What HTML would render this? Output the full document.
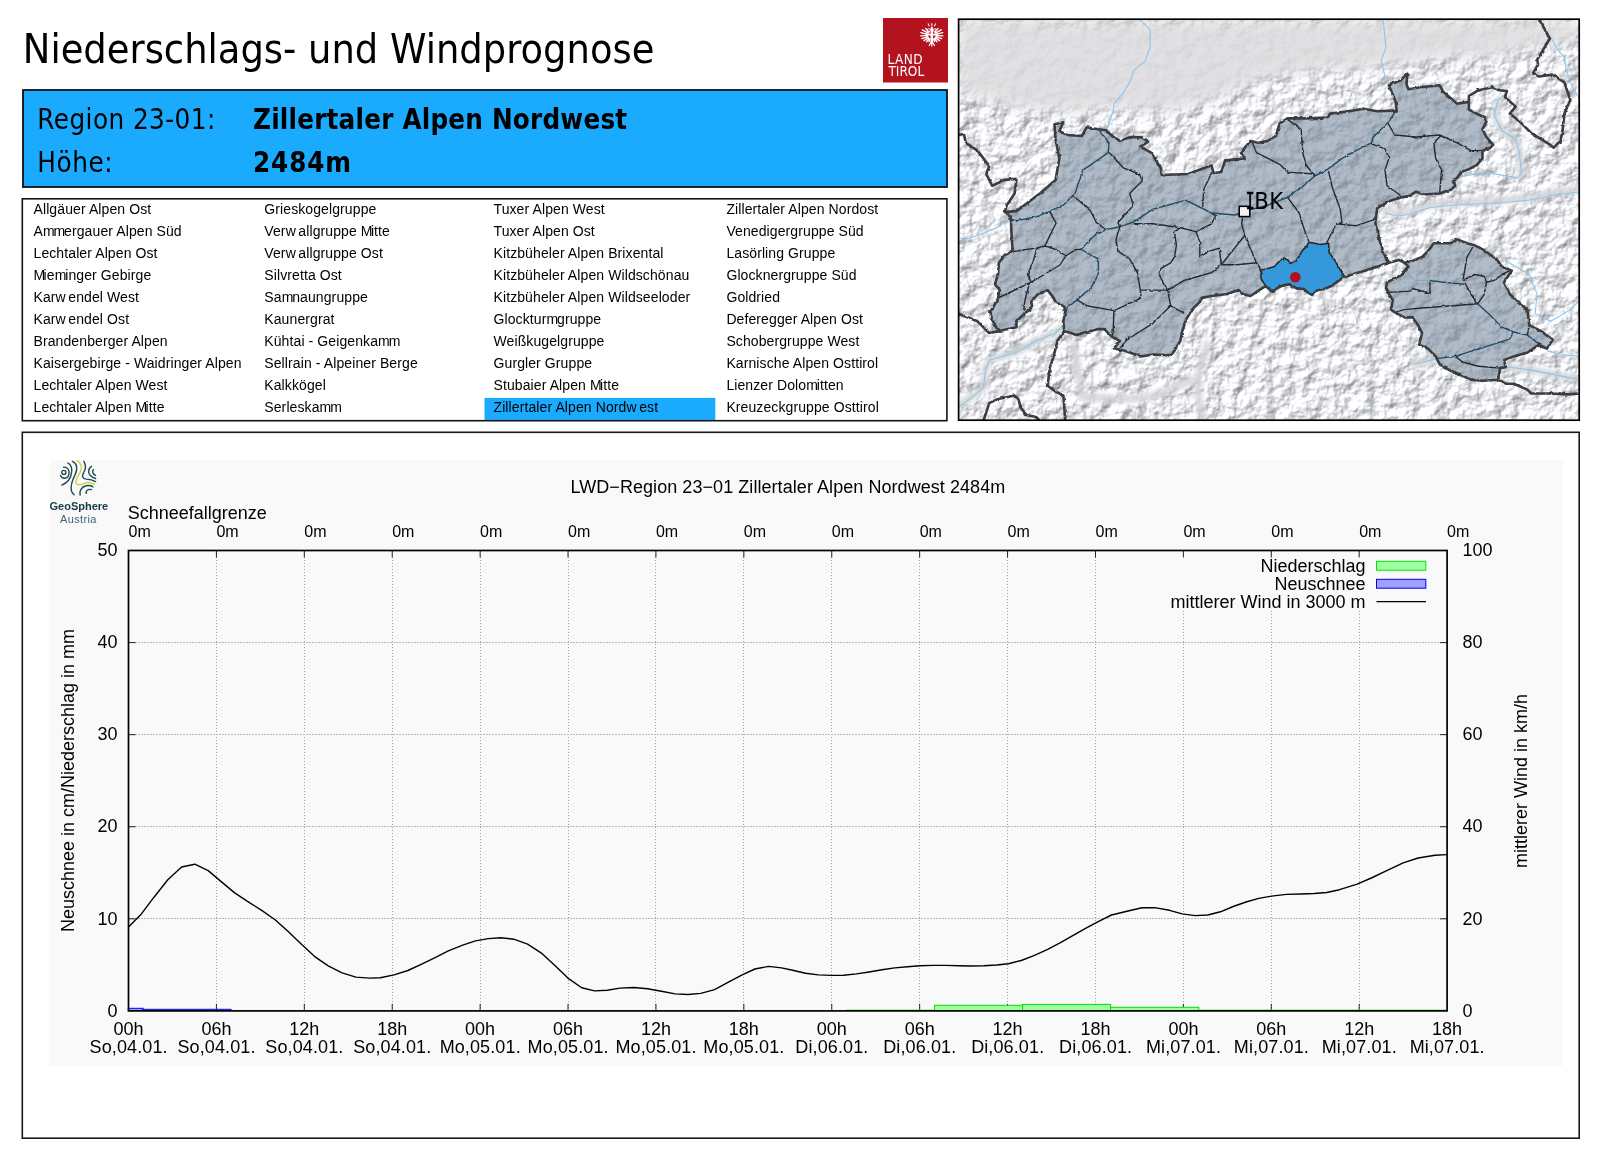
<!DOCTYPE html>
<html lang="de"><head><meta charset="utf-8"><title>Niederschlags- und Windprognose</title>
<style>
html,body{margin:0;padding:0;background:#fff;}
body{width:1600px;height:1153px;overflow:hidden;position:relative;}
svg{position:absolute;left:0;top:0;will-change:transform;}
.ar{font-family:"Liberation Sans",Arial,sans-serif;}
</style></head><body>
<svg width="1600" height="1153" viewBox="0 0 1600 1153">

<text transform="translate(22.8 63) scale(0.9 1)" font-family="DejaVu Sans,sans-serif" font-size="41" fill="#000">Niederschlags- und Windprognose</text>
<g id="logo"><rect x="883" y="18" width="65" height="64.5" fill="#b3121f"/>
<g fill="#fff" stroke="#fff"><path d="M929.0 32.1L925.6 28.4M928.2 33.1L922.4 29.8M927.7 34.3L920.8 32.7M927.6 35.4L920.7 35.8M927.8 36.6L921.9 38.6M928.4 37.6L924.0 40.6M929.2 38.5L926.6 41.7M930.1 39.0L929.0 41.6M934.6 32.1L938.0 28.4M935.4 33.1L941.2 29.8M935.9 34.3L942.8 32.7M936.0 35.4L942.9 35.8M935.8 36.6L941.7 38.6M935.2 37.6L939.6 40.6M934.4 38.5L937.0 41.7M933.5 39.0L934.6 41.6" stroke-width="1.35" stroke-linecap="round" fill="none"/><path d="M925.4 34.6H938.2" stroke-width="1.8" fill="none"/><rect x="930.6" y="27" width="2.4" height="17" rx="1.1" stroke="none"/><path d="M931.8 40.5L929 46M931.8 40.5L934.6 46M931.8 40.5v6" stroke-width="1.2" fill="none"/><circle cx="928.7" cy="30.3" r="1.55" fill="none" stroke-width="1"/><circle cx="934.9" cy="30.3" r="1.55" fill="none" stroke-width="1"/><path d="M931.8 26.5v-3.2M929.3 26.2l-1.4-2.8M934.3 26.2l1.4-2.8" stroke-width="1.05" fill="none"/></g>
<text transform="translate(887.6 64.1) scale(0.9 1)" font-family="DejaVu Sans,sans-serif" font-size="13.5" fill="#fff" letter-spacing="0.444">LAND</text>
<text transform="translate(888.4 76.3) scale(0.9 1)" font-family="DejaVu Sans,sans-serif" font-size="13.5" fill="#fff">TIROL</text></g>
<rect x="23" y="90" width="924" height="97" fill="#1aabff" stroke="#0d1114" stroke-width="1.8"/>
<text transform="translate(37.3 129) scale(0.9 1)" font-family="DejaVu Sans,sans-serif" font-size="27.5" fill="#000" letter-spacing="0.478">Region 23-01:</text><text transform="translate(37.3 171.7) scale(0.9 1)" font-family="DejaVu Sans,sans-serif" font-size="27.5" fill="#000" letter-spacing="0.667">Höhe:</text>
<text transform="translate(253 128.9) scale(0.9 1)" font-family="DejaVu Sans,sans-serif" font-size="27.5" fill="#000" font-weight="bold" letter-spacing="0.222">Zillertaler Alpen Nordwest</text><text transform="translate(253 172) scale(0.9 1)" font-family="DejaVu Sans,sans-serif" font-size="27.5" fill="#000" font-weight="bold" letter-spacing="0.944">2484m</text>
<rect x="484.5" y="397.9" width="230.8" height="22" fill="#1aabff"/>
<rect x="22.3" y="198.8" width="924.6" height="221.9" fill="none" stroke="#111315" stroke-width="1.6"/>
<g class="ar" font-size="14" fill="#000" letter-spacing="0.1">
<text x="33.5" y="213.7">Allgäuer Alpen Ost</text>
<text x="33.5" y="235.7">A<tspan letter-spacing="-1.1">m</tspan><tspan letter-spacing="-1.1">m</tspan>ergauer Alpen Süd</text>
<text x="33.5" y="257.7">Lechtaler Alpen Ost</text>
<text x="33.5" y="279.7"><tspan letter-spacing="-1.6">M</tspan>ie<tspan letter-spacing="-1.1">m</tspan>inger Gebirge</text>
<text x="33.5" y="301.7">Kar<tspan letter-spacing="2.6">w</tspan>endel West</text>
<text x="33.5" y="323.7">Kar<tspan letter-spacing="2.6">w</tspan>endel Ost</text>
<text x="33.5" y="345.7">Brandenberger Alpen</text>
<text x="33.5" y="367.7">Kaisergebirge - Waidringer Alpen</text>
<text x="33.5" y="389.7">Lechtaler Alpen West</text>
<text x="33.5" y="411.7">Lechtaler Alpen <tspan letter-spacing="-1.6">M</tspan>itte</text>
<text x="264.3" y="213.7">Grieskogelgruppe</text>
<text x="264.3" y="235.7">Ver<tspan letter-spacing="2.6">w</tspan>allgruppe <tspan letter-spacing="-1.6">M</tspan>itte</text>
<text x="264.3" y="257.7">Ver<tspan letter-spacing="2.6">w</tspan>allgruppe Ost</text>
<text x="264.3" y="279.7">Silvretta Ost</text>
<text x="264.3" y="301.7">Sa<tspan letter-spacing="-1.1">m</tspan>naungruppe</text>
<text x="264.3" y="323.7">Kaunergrat</text>
<text x="264.3" y="345.7">Kühtai - Geigenka<tspan letter-spacing="-1.1">m</tspan><tspan letter-spacing="-1.1">m</tspan></text>
<text x="264.3" y="367.7">Sellrain - Alpeiner Berge</text>
<text x="264.3" y="389.7">Kalkkögel</text>
<text x="264.3" y="411.7">Serleska<tspan letter-spacing="-1.1">m</tspan><tspan letter-spacing="-1.1">m</tspan></text>
<text x="493.5" y="213.7">Tuxer Alpen West</text>
<text x="493.5" y="235.7">Tuxer Alpen Ost</text>
<text x="493.5" y="257.7">Kitzbüheler Alpen Brixental</text>
<text x="493.5" y="279.7">Kitzbüheler Alpen Wildschönau</text>
<text x="493.5" y="301.7">Kitzbüheler Alpen Wildseeloder</text>
<text x="493.5" y="323.7">Glocktur<tspan letter-spacing="-1.1">m</tspan>gruppe</text>
<text x="493.5" y="345.7">Weißkugelgruppe</text>
<text x="493.5" y="367.7">Gurgler Gruppe</text>
<text x="493.5" y="389.7">Stubaier Alpen <tspan letter-spacing="-1.6">M</tspan>itte</text>
<text x="493.5" y="411.7">Zillertaler Alpen Nord<tspan letter-spacing="2.6">w</tspan>est</text>
<text x="726.4" y="213.7">Zillertaler Alpen Nordost</text>
<text x="726.4" y="235.7">Venedigergruppe Süd</text>
<text x="726.4" y="257.7">Lasörling Gruppe</text>
<text x="726.4" y="279.7">Glocknergruppe Süd</text>
<text x="726.4" y="301.7">Goldried</text>
<text x="726.4" y="323.7">Deferegger Alpen Ost</text>
<text x="726.4" y="345.7">Schobergruppe West</text>
<text x="726.4" y="367.7">Karnische Alpen Osttirol</text>
<text x="726.4" y="389.7">Lienzer Dolo<tspan letter-spacing="-1.1">m</tspan>itten</text>
<text x="726.4" y="411.7">Kreuzeckgruppe Osttirol</text>
</g>
<defs>
<clipPath id="mc"><rect x="958.6" y="19.2" width="620.6" height="401"/></clipPath>
<filter id="hs" x="958" y="18" width="623" height="404" filterUnits="userSpaceOnUse" color-interpolation-filters="sRGB">
<feTurbulence type="fractalNoise" baseFrequency="0.07 0.075" numOctaves="4" seed="7" result="n"/>
<feDiffuseLighting in="n" surfaceScale="3.6" diffuseConstant="1" lighting-color="#ffffff" result="l"><feDistantLight azimuth="225" elevation="44"/></feDiffuseLighting>
<feColorMatrix type="matrix" values="0.64 0 0 0 0.47  0 0.64 0 0 0.475  0 0 0.64 0 0.49  0 0 0 0 1"/>
</filter>
<filter id="bl" x="-10%" y="-10%" width="120%" height="120%"><feGaussianBlur stdDeviation="7"/></filter>
<filter id="vb" x="-10%" y="-10%" width="120%" height="120%"><feGaussianBlur stdDeviation="2"/></filter>
<filter id="jag" x="958" y="18" width="623" height="404" filterUnits="userSpaceOnUse" color-interpolation-filters="sRGB"><feTurbulence type="fractalNoise" baseFrequency="0.22" numOctaves="2" seed="3" result="t"/><feDisplacementMap in="SourceGraphic" in2="t" scale="2.6" xChannelSelector="R" yChannelSelector="G"/></filter>
<mask id="mm" maskUnits="userSpaceOnUse" x="958" y="18" width="623" height="404"><rect x="958" y="18" width="623" height="404" fill="#fff"/><path d="M958.0 19.0 L1580.0 19.0 L1580.0 42.0 L1530.0 50.0 L1490.0 58.0 L1450.0 58.0 L1420.0 62.0 L1390.0 66.0 L1350.0 70.0 L1320.0 72.0 L1290.0 75.0 L1260.0 80.0 L1230.0 95.0 L1200.0 105.0 L1170.0 112.0 L1140.0 112.0 L1110.0 108.0 L1080.0 113.0 L1050.0 112.0 L1020.0 110.0 L990.0 100.0 L958.0 95.0Z" fill="#1c1c1c" filter="url(#bl)"/></mask>
</defs>
<g clip-path="url(#mc)">
<rect x="958" y="18" width="623" height="404" fill="#dedee0"/>
<rect x="958" y="18" width="623" height="404" filter="url(#hs)" mask="url(#mm)"/>
<path d="M958.0 405.0 L970.0 398.0 L983.0 388.0 L985.0 372.0 L989.0 360.0 L1016.0 352.0 L1036.0 341.0 L1055.0 333.0 L1064.0 326.0M1074.0 345.0 L1078.0 372.0 L1082.0 397.0 L1120.0 399.0 L1150.0 397.0 L1175.0 387.0 L1197.0 379.0 L1203.0 360.0 L1207.0 345.0M1197.0 379.0 L1199.0 400.0 L1203.0 421.0M1385.0 211.0 L1397.0 213.0 L1408.0 211.5 L1430.0 205.0 L1455.0 202.5 L1505.0 200.0 L1530.0 197.5 L1560.0 191.5 L1580.0 189.5M1500.0 100.0 L1495.0 116.0 L1502.0 131.0 L1516.0 139.0 L1520.0 155.0 L1521.0 174.0M1414.0 364.0 L1438.0 358.0M1502.0 366.0 L1531.0 370.0 L1560.0 376.0 L1580.0 380.0" fill="none" stroke="#d3d4d6" stroke-width="8" stroke-linecap="round" stroke-linejoin="round" opacity="0.85" filter="url(#vb)"/>
<path d="M1139.4 19.0 L1150.1 29.7 L1150.1 47.3 L1145.2 60.9 L1133.5 70.7 L1129.6 82.4 L1123.8 92.1 L1114.0 103.8 L1113.0 111.6 L1108.2 125.3 L1106.2 130.1M1383.0 19.0 L1386.0 47.3 L1381.1 60.9 L1385.0 76.5 L1388.9 85.3M1550.8 37.5 L1558.6 51.2 L1564.4 57.0 L1566.4 70.7 L1572.2 86.3 L1580.0 99.9M1507.9 92.1 L1498.1 99.9 L1494.2 115.5 L1502.0 131.1 L1515.7 138.9 L1519.6 154.5 L1521.5 174.0 L1517.6 177.9 L1484.5 172.1 L1455.2 177.9M1385.0 213.0 L1397.0 216.0 L1408.0 214.5 L1430.0 207.5 L1455.0 205.0 L1505.0 202.5 L1530.0 200.0 L1560.0 194.0 L1580.0 192.0M958.0 241.4 L977.5 235.5 L997.0 227.7 L1006.8 219.9M1063.3 325.2 L1055.5 333.0 L1036.0 340.8 L1016.5 352.5 L989.2 360.3 L985.3 372.0 L983.4 387.6 L969.7 399.3 L958.0 407.1M1505.9 260.9 L1519.6 268.7 L1529.3 274.5 L1537.1 294.0 L1535.2 313.5 L1550.8 321.3 L1570.3 309.6 L1580.0 299.9M1546.9 350.6 L1560.5 354.5 L1580.0 356.4M1502.0 366.2 L1531.3 370.1 L1560.5 375.9 L1580.0 379.8M1414.3 364.2 L1437.7 358.4M1406.5 272.6 L1414.3 280.4 L1429.9 280.4" fill="none" stroke="#8ec6ea" stroke-width="1.1"/>
<path d="M1004.8 212.0 L1016.5 211.1 L1039.9 193.5 L1055.5 179.9 L1059.4 158.4 L1055.5 138.9 L1054.5 124.3 L1063.3 122.3 L1059.4 131.1 L1067.2 135.0 L1081.8 136.0 L1086.7 127.2 L1098.4 129.2 L1106.2 130.1 L1112.1 136.0 L1119.9 140.9 L1129.6 137.3 L1141.3 137.0 L1148.1 141.8 L1140.3 146.7 L1151.1 152.6 L1160.8 168.2 L1161.8 175.0 L1188.1 174.0 L1211.5 165.2 L1213.5 173.0 L1221.3 172.0 L1225.2 160.4 L1244.7 158.4 L1240.8 152.6 L1250.5 140.9 L1258.3 142.8 L1268.0 140.9 L1275.8 136.0 L1279.7 123.3 L1287.5 118.4 L1307.0 118.4 L1326.5 117.5 L1330.4 113.6 L1346.0 111.6 L1363.6 108.7 L1377.2 111.2 L1392.8 110.6 L1396.7 111.6 L1395.7 101.9 L1388.9 85.3 L1400.6 80.4 L1407.4 73.6 L1406.5 84.3 L1408.4 89.2 L1420.1 87.2 L1439.6 85.3 L1443.5 92.1 L1457.2 103.8 L1468.9 101.9 L1468.9 109.7 L1474.7 112.6 L1484.5 117.5 L1486.4 121.4 L1482.5 129.2 L1486.4 137.0 L1493.2 144.8 L1490.3 147.7 L1482.5 150.6 L1482.5 158.4 L1476.7 165.2 L1468.9 169.1 L1461.1 172.1 L1457.2 177.9 L1453.3 179.9 L1455.2 185.7 L1451.3 189.6 L1439.6 193.5 L1424.0 194.5 L1416.2 191.6 L1408.4 196.4 L1400.6 197.4 L1388.9 201.3 L1377.2 208.1 L1375.3 222.8 L1377.2 227.7 L1379.2 239.4 L1383.0 251.1 L1387.0 260.9 L1388.9 262.8 L1377.2 266.7 L1365.5 270.6 L1351.9 274.5 L1344.1 277.5 L1339.3 280.1 L1332.2 285.5 L1326.3 288.4 L1317.4 290.2 L1312.0 295.0 L1307.3 292.0 L1303.7 289.0 L1296.6 288.4 L1289.4 284.3 L1281.1 286.1 L1271.6 291.4 L1265.7 286.1 L1262.2 288.2 L1250.5 296.0 L1242.7 294.0 L1238.8 290.1 L1227.1 294.0 L1211.5 296.0 L1201.8 297.9 L1199.8 301.8 L1192.0 309.6 L1186.2 319.4 L1182.3 331.1 L1180.3 340.8 L1174.5 350.6 L1170.6 355.4 L1153.0 354.5 L1141.3 356.4 L1123.8 350.6 L1114.0 348.6 L1119.9 340.8 L1112.1 336.9 L1104.3 329.1 L1098.4 329.1 L1082.8 333.0 L1077.0 335.0 L1064.3 331.1 L1063.3 321.3 L1065.3 311.6 L1064.3 306.7 L1055.5 301.8 L1053.6 297.9 L1047.7 290.1 L1038.0 294.0 L1031.1 301.8 L1032.1 305.7 L1030.2 309.6 L1024.3 313.5 L1016.5 321.3 L1016.5 327.2 L999.0 331.1 L997.0 329.1 L992.1 319.4 L990.2 311.6 L993.1 307.7 L998.0 297.9 L999.9 290.1 L995.0 284.3 L998.0 274.5 L998.9 262.8 L1004.8 255.0 L1012.6 251.1 L1011.6 235.5 L1010.7 216.0ZM1404.5 262.8 L1408.4 266.7 L1404.5 270.6 L1402.6 274.5 L1394.8 278.4 L1387.0 282.3 L1386.0 288.2 L1388.9 294.0 L1392.8 299.9 L1390.9 309.6 L1396.7 313.5 L1404.5 317.4 L1412.3 317.4 L1418.2 325.2 L1422.1 333.0 L1419.1 344.7 L1427.9 348.6 L1435.7 356.4 L1439.6 364.2 L1449.4 370.1 L1459.1 374.0 L1470.8 379.8 L1482.5 380.8 L1498.1 379.8 L1500.1 368.1 L1505.9 367.1 L1504.0 360.3 L1513.7 356.4 L1527.4 352.5 L1539.1 344.7 L1546.9 348.6 L1552.7 339.8 L1541.0 331.1 L1533.2 327.2 L1529.3 325.2 L1527.4 309.6 L1519.6 303.8 L1509.8 294.0 L1504.0 282.3 L1511.8 270.6 L1502.0 266.7 L1496.2 258.9 L1482.5 249.2 L1474.7 245.3 L1466.9 243.3 L1457.2 239.4 L1449.4 243.3 L1433.8 243.3 L1427.9 251.1 L1422.1 257.0 L1412.3 260.9Z" fill="#c2ccd7" style="mix-blend-mode:multiply"/>
<path d="M1004.8 212.0 L1016.5 211.1 L1039.9 193.5 L1055.5 179.9 L1059.4 158.4 L1055.5 138.9 L1054.5 124.3 L1063.3 122.3 L1059.4 131.1 L1067.2 135.0 L1081.8 136.0 L1086.7 127.2 L1098.4 129.2 L1106.2 130.1 L1112.1 136.0 L1119.9 140.9 L1129.6 137.3 L1141.3 137.0 L1148.1 141.8 L1140.3 146.7 L1151.1 152.6 L1160.8 168.2 L1161.8 175.0 L1188.1 174.0 L1211.5 165.2 L1213.5 173.0 L1221.3 172.0 L1225.2 160.4 L1244.7 158.4 L1240.8 152.6 L1250.5 140.9 L1258.3 142.8 L1268.0 140.9 L1275.8 136.0 L1279.7 123.3 L1287.5 118.4 L1307.0 118.4 L1326.5 117.5 L1330.4 113.6 L1346.0 111.6 L1363.6 108.7 L1377.2 111.2 L1392.8 110.6 L1396.7 111.6 L1395.7 101.9 L1388.9 85.3 L1400.6 80.4 L1407.4 73.6 L1406.5 84.3 L1408.4 89.2 L1420.1 87.2 L1439.6 85.3 L1443.5 92.1 L1457.2 103.8 L1468.9 101.9 L1468.9 109.7 L1474.7 112.6 L1484.5 117.5 L1486.4 121.4 L1482.5 129.2 L1486.4 137.0 L1493.2 144.8 L1490.3 147.7 L1482.5 150.6 L1482.5 158.4 L1476.7 165.2 L1468.9 169.1 L1461.1 172.1 L1457.2 177.9 L1453.3 179.9 L1455.2 185.7 L1451.3 189.6 L1439.6 193.5 L1424.0 194.5 L1416.2 191.6 L1408.4 196.4 L1400.6 197.4 L1388.9 201.3 L1377.2 208.1 L1375.3 222.8 L1377.2 227.7 L1379.2 239.4 L1383.0 251.1 L1387.0 260.9 L1388.9 262.8 L1377.2 266.7 L1365.5 270.6 L1351.9 274.5 L1344.1 277.5 L1339.3 280.1 L1332.2 285.5 L1326.3 288.4 L1317.4 290.2 L1312.0 295.0 L1307.3 292.0 L1303.7 289.0 L1296.6 288.4 L1289.4 284.3 L1281.1 286.1 L1271.6 291.4 L1265.7 286.1 L1262.2 288.2 L1250.5 296.0 L1242.7 294.0 L1238.8 290.1 L1227.1 294.0 L1211.5 296.0 L1201.8 297.9 L1199.8 301.8 L1192.0 309.6 L1186.2 319.4 L1182.3 331.1 L1180.3 340.8 L1174.5 350.6 L1170.6 355.4 L1153.0 354.5 L1141.3 356.4 L1123.8 350.6 L1114.0 348.6 L1119.9 340.8 L1112.1 336.9 L1104.3 329.1 L1098.4 329.1 L1082.8 333.0 L1077.0 335.0 L1064.3 331.1 L1063.3 321.3 L1065.3 311.6 L1064.3 306.7 L1055.5 301.8 L1053.6 297.9 L1047.7 290.1 L1038.0 294.0 L1031.1 301.8 L1032.1 305.7 L1030.2 309.6 L1024.3 313.5 L1016.5 321.3 L1016.5 327.2 L999.0 331.1 L997.0 329.1 L992.1 319.4 L990.2 311.6 L993.1 307.7 L998.0 297.9 L999.9 290.1 L995.0 284.3 L998.0 274.5 L998.9 262.8 L1004.8 255.0 L1012.6 251.1 L1011.6 235.5 L1010.7 216.0ZM1404.5 262.8 L1408.4 266.7 L1404.5 270.6 L1402.6 274.5 L1394.8 278.4 L1387.0 282.3 L1386.0 288.2 L1388.9 294.0 L1392.8 299.9 L1390.9 309.6 L1396.7 313.5 L1404.5 317.4 L1412.3 317.4 L1418.2 325.2 L1422.1 333.0 L1419.1 344.7 L1427.9 348.6 L1435.7 356.4 L1439.6 364.2 L1449.4 370.1 L1459.1 374.0 L1470.8 379.8 L1482.5 380.8 L1498.1 379.8 L1500.1 368.1 L1505.9 367.1 L1504.0 360.3 L1513.7 356.4 L1527.4 352.5 L1539.1 344.7 L1546.9 348.6 L1552.7 339.8 L1541.0 331.1 L1533.2 327.2 L1529.3 325.2 L1527.4 309.6 L1519.6 303.8 L1509.8 294.0 L1504.0 282.3 L1511.8 270.6 L1502.0 266.7 L1496.2 258.9 L1482.5 249.2 L1474.7 245.3 L1466.9 243.3 L1457.2 239.4 L1449.4 243.3 L1433.8 243.3 L1427.9 251.1 L1422.1 257.0 L1412.3 260.9Z" fill="#a2adba" opacity="0.52"/>
<path d="M1261.5 270.0 L1266.9 268.8 L1274.6 266.5 L1280.5 259.9 L1284.1 257.9 L1287.1 259.9 L1290.0 263.5 L1295.4 261.1 L1298.3 257.6 L1302.5 250.4 L1306.1 246.9 L1309.0 242.1 L1314.4 243.3 L1320.3 244.5 L1328.6 243.3 L1329.2 252.8 L1334.6 259.9 L1339.3 268.3 L1344.1 276.0 L1339.3 280.1 L1332.2 285.5 L1326.3 288.4 L1317.4 290.2 L1312.0 295.0 L1307.3 292.0 L1303.7 289.0 L1296.6 288.4 L1289.4 284.3 L1281.1 286.1 L1271.6 291.4 L1265.7 286.1 L1260.9 278.3Z" fill="#3598db"/>
<g filter="url(#jag)"><path d="M1099.4 130.1 L1109.1 142.8 L1108.2 152.6 L1094.5 162.3 L1082.8 170.1 L1075.0 193.5 L1063.3 205.2 L1049.7 211.1 L1036.0 216.9 L1016.5 220.8 L1008.0 218.5M1064.3 317.4 L1067.2 307.7 L1077.0 299.9 L1090.6 288.2 L1098.4 274.5 L1098.4 258.9 L1090.6 255.0 L1080.9 249.2 L1094.5 235.5 L1106.2 229.7 L1119.9 226.7 L1133.5 222.0 L1153.0 209.1 L1186.2 200.3 L1211.5 213.0 L1234.9 215.0 L1244.5 211.0 L1268.0 205.2 L1287.5 197.4 L1301.2 187.7 L1314.8 176.0 L1326.5 170.1 L1342.1 158.4 L1355.8 150.6 L1371.4 142.8 L1373.3 137.0 L1388.9 121.4 L1396.7 109.7M1429.9 280.4 L1443.5 282.3 L1465.0 284.3M1477.6 303.8 L1488.4 313.5 L1502.0 327.2 L1513.7 332.0 L1527.4 335.0 L1544.9 348.6M1513.7 332.0 L1509.8 338.9 L1492.3 344.7 L1472.8 350.6 L1455.2 356.4 L1437.7 358.4" fill="none" stroke="#1e4a64" stroke-width="1.4" stroke-linejoin="round"/>
<path d="M1109.1 152.6 L1123.8 168.2 L1139.4 174.0 L1142.3 180.8 L1129.6 193.5 L1133.5 205.2 L1117.9 222.8 L1119.9 226.7M1073.0 195.5 L1090.6 211.1 L1096.5 222.8 L1106.2 229.7M1049.5 211.6 L1056.1 223.0 L1044.7 246.0M1211.5 173.0 L1203.7 189.6 L1202.7 207.2M1252.5 142.8 L1256.4 152.6 L1268.0 158.4 L1279.7 164.3 L1287.5 172.1 L1314.8 174.0M1012.3 251.7 L1037.0 247.9 L1044.7 246.0 L1055.0 249.0 L1065.7 255.5M1037.0 247.9 L1033.0 262.0 L1027.5 274.6 L1031.3 282.2M1031.3 282.2 L1045.0 274.0 L1060.0 265.0 L1065.7 256.0 L1075.2 249.8 L1080.9 249.2M998.9 297.5 L1015.0 290.0 L1031.3 282.2M1029.0 285.0 L1025.0 300.0 L1023.7 310.8M1077.0 299.9 L1086.7 305.7 L1114.0 310.6 L1141.3 297.9 L1140.3 290.1 L1167.6 290.1M1119.9 226.7 L1116.0 239.4 L1117.9 251.1 L1129.6 258.9 L1137.4 272.6 L1140.3 290.1M1114.0 310.6 L1113.0 333.0 L1112.1 336.9M1167.6 290.1 L1170.6 305.7 L1153.0 323.3 L1137.4 333.0 L1125.7 340.8 L1119.9 348.6M1170.6 305.7 L1184.2 313.5M1167.6 290.1 L1158.9 274.5 L1160.8 268.7 L1170.6 262.8 L1174.5 257.0 L1176.4 245.3 L1174.5 231.6 L1180.3 227.7M1167.6 290.1 L1184.2 280.4 L1197.9 276.5 L1211.5 272.6 L1221.3 264.8 L1236.9 264.8 L1256.4 262.8 L1261.5 270.0M1221.3 264.8 L1219.3 248.2 L1209.6 251.1 L1199.8 257.0 L1199.8 241.4 L1195.9 231.6 L1180.3 227.7M1221.3 264.8 L1244.7 235.5 L1241.7 223.8 L1242.7 216.0M1244.7 235.5 L1256.4 262.8M1195.9 231.6 L1211.5 223.8 L1215.5 216.0 L1211.5 213.0M1133.5 223.8 L1153.0 223.8 L1180.3 227.7M1287.5 119.4 L1301.2 129.2 L1302.0 142.0 L1303.1 154.5 L1307.0 166.2 L1314.8 176.0M1328.5 171.1 L1332.4 187.7 L1340.2 209.1 L1342.1 222.8 L1336.3 223.8 L1330.4 235.5 L1326.5 243.3M1287.5 197.4 L1299.2 213.0 L1302.1 222.8 L1305.0 231.6 L1309.0 242.1M1336.3 223.8 L1355.8 225.8 L1373.3 219.9 L1376.0 216.0M1371.4 143.8 L1385.0 148.7 L1388.9 158.4 L1385.0 170.1 L1387.0 185.7 L1400.6 195.5M1388.0 123.3 L1394.8 135.0 L1416.2 137.0 L1439.6 135.0 L1457.2 142.8 L1470.8 150.6 L1482.5 150.6M1441.6 135.0 L1433.8 142.8 L1435.7 158.4 L1441.6 170.1 L1439.6 193.5M1463.0 280.4 L1466.9 257.0 L1472.8 247.2M1463.0 280.4 L1474.7 274.5 L1484.5 276.5 L1486.4 282.3 L1484.5 294.0 L1477.6 303.8M1486.4 282.3 L1494.2 280.4 L1502.0 274.5 L1509.8 270.6M1465.0 283.0 L1470.8 294.0 L1477.6 303.8M1455.2 356.4 L1463.0 362.3 L1478.6 366.2 L1500.1 368.1M1529.3 325.2 L1527.4 335.0M1388.0 292.5 L1392.8 292.1 L1410.4 291.1 L1412.0 288.5 L1429.9 293.0 L1429.9 282.3M1396.7 311.6 L1404.5 309.6 L1424.0 307.7 L1453.3 305.7 L1477.6 303.8" fill="none" stroke="#25292d" stroke-width="1.4" stroke-linejoin="round"/>
<path d="M1261.5 270.0 L1266.9 268.8 L1274.6 266.5 L1280.5 259.9 L1284.1 257.9 L1287.1 259.9 L1290.0 263.5 L1295.4 261.1 L1298.3 257.6 L1302.5 250.4 L1306.1 246.9 L1309.0 242.1 L1314.4 243.3 L1320.3 244.5 L1328.6 243.3 L1329.2 252.8 L1334.6 259.9 L1339.3 268.3 L1344.1 276.0 L1339.3 280.1 L1332.2 285.5 L1326.3 288.4 L1317.4 290.2 L1312.0 295.0 L1307.3 292.0 L1303.7 289.0 L1296.6 288.4 L1289.4 284.3 L1281.1 286.1 L1271.6 291.4 L1265.7 286.1 L1260.9 278.3Z" fill="none" stroke="#25292d" stroke-width="1.6" stroke-linejoin="round"/>
<path d="M1004.8 212.0 L1016.5 211.1 L1039.9 193.5 L1055.5 179.9 L1059.4 158.4 L1055.5 138.9 L1054.5 124.3 L1063.3 122.3 L1059.4 131.1 L1067.2 135.0 L1081.8 136.0 L1086.7 127.2 L1098.4 129.2 L1106.2 130.1 L1112.1 136.0 L1119.9 140.9 L1129.6 137.3 L1141.3 137.0 L1148.1 141.8 L1140.3 146.7 L1151.1 152.6 L1160.8 168.2 L1161.8 175.0 L1188.1 174.0 L1211.5 165.2 L1213.5 173.0 L1221.3 172.0 L1225.2 160.4 L1244.7 158.4 L1240.8 152.6 L1250.5 140.9 L1258.3 142.8 L1268.0 140.9 L1275.8 136.0 L1279.7 123.3 L1287.5 118.4 L1307.0 118.4 L1326.5 117.5 L1330.4 113.6 L1346.0 111.6 L1363.6 108.7 L1377.2 111.2 L1392.8 110.6 L1396.7 111.6 L1395.7 101.9 L1388.9 85.3 L1400.6 80.4 L1407.4 73.6 L1406.5 84.3 L1408.4 89.2 L1420.1 87.2 L1439.6 85.3 L1443.5 92.1 L1457.2 103.8 L1468.9 101.9 L1468.9 109.7 L1474.7 112.6 L1484.5 117.5 L1486.4 121.4 L1482.5 129.2 L1486.4 137.0 L1493.2 144.8 L1490.3 147.7 L1482.5 150.6 L1482.5 158.4 L1476.7 165.2 L1468.9 169.1 L1461.1 172.1 L1457.2 177.9 L1453.3 179.9 L1455.2 185.7 L1451.3 189.6 L1439.6 193.5 L1424.0 194.5 L1416.2 191.6 L1408.4 196.4 L1400.6 197.4 L1388.9 201.3 L1377.2 208.1 L1375.3 222.8 L1377.2 227.7 L1379.2 239.4 L1383.0 251.1 L1387.0 260.9 L1388.9 262.8 L1377.2 266.7 L1365.5 270.6 L1351.9 274.5 L1344.1 277.5 L1339.3 280.1 L1332.2 285.5 L1326.3 288.4 L1317.4 290.2 L1312.0 295.0 L1307.3 292.0 L1303.7 289.0 L1296.6 288.4 L1289.4 284.3 L1281.1 286.1 L1271.6 291.4 L1265.7 286.1 L1262.2 288.2 L1250.5 296.0 L1242.7 294.0 L1238.8 290.1 L1227.1 294.0 L1211.5 296.0 L1201.8 297.9 L1199.8 301.8 L1192.0 309.6 L1186.2 319.4 L1182.3 331.1 L1180.3 340.8 L1174.5 350.6 L1170.6 355.4 L1153.0 354.5 L1141.3 356.4 L1123.8 350.6 L1114.0 348.6 L1119.9 340.8 L1112.1 336.9 L1104.3 329.1 L1098.4 329.1 L1082.8 333.0 L1077.0 335.0 L1064.3 331.1 L1063.3 321.3 L1065.3 311.6 L1064.3 306.7 L1055.5 301.8 L1053.6 297.9 L1047.7 290.1 L1038.0 294.0 L1031.1 301.8 L1032.1 305.7 L1030.2 309.6 L1024.3 313.5 L1016.5 321.3 L1016.5 327.2 L999.0 331.1 L997.0 329.1 L992.1 319.4 L990.2 311.6 L993.1 307.7 L998.0 297.9 L999.9 290.1 L995.0 284.3 L998.0 274.5 L998.9 262.8 L1004.8 255.0 L1012.6 251.1 L1011.6 235.5 L1010.7 216.0ZM1404.5 262.8 L1408.4 266.7 L1404.5 270.6 L1402.6 274.5 L1394.8 278.4 L1387.0 282.3 L1386.0 288.2 L1388.9 294.0 L1392.8 299.9 L1390.9 309.6 L1396.7 313.5 L1404.5 317.4 L1412.3 317.4 L1418.2 325.2 L1422.1 333.0 L1419.1 344.7 L1427.9 348.6 L1435.7 356.4 L1439.6 364.2 L1449.4 370.1 L1459.1 374.0 L1470.8 379.8 L1482.5 380.8 L1498.1 379.8 L1500.1 368.1 L1505.9 367.1 L1504.0 360.3 L1513.7 356.4 L1527.4 352.5 L1539.1 344.7 L1546.9 348.6 L1552.7 339.8 L1541.0 331.1 L1533.2 327.2 L1529.3 325.2 L1527.4 309.6 L1519.6 303.8 L1509.8 294.0 L1504.0 282.3 L1511.8 270.6 L1502.0 266.7 L1496.2 258.9 L1482.5 249.2 L1474.7 245.3 L1466.9 243.3 L1457.2 239.4 L1449.4 243.3 L1433.8 243.3 L1427.9 251.1 L1422.1 257.0 L1412.3 260.9ZM958.0 135.0 L963.9 134.0 L965.8 142.8 L977.5 150.6 L983.4 158.4 L989.2 166.2 L986.3 174.0 L992.1 185.7 L1004.8 179.9 L1016.5 178.9 L1014.6 193.5 L1006.8 205.2 L1004.8 212.0M958.0 313.5 L977.5 321.3 L989.2 333.0 L999.0 331.1M1064.3 331.1 L1061.4 335.0 L1057.5 340.8 L1053.6 356.4 L1049.7 368.1 L1047.7 385.7 L1055.5 391.5 L1063.3 395.4 L1065.3 421.0M983.4 421.0 L989.2 403.2 L997.0 399.3 L1014.6 395.4 L1018.5 399.3 L1020.4 407.1 L1026.3 414.9 L1036.0 416.9 L1040.0 421.0M1539.0 19.0 L1549.8 38.5 L1537.1 59.9 L1538.1 64.8 L1533.2 72.6 L1539.0 76.5 L1552.7 74.6 L1564.4 82.4 L1570.3 99.9 L1564.4 113.6 L1562.5 131.1 L1560.5 140.9 L1553.7 147.7 L1548.8 143.8 L1531.3 133.1 L1519.6 121.4 L1509.8 113.6 L1515.7 106.7 L1504.9 97.0 L1506.9 91.1 L1500.1 90.2 L1492.3 87.2 L1478.6 90.2 L1468.9 96.0 L1468.9 101.9M1498.1 379.8 L1505.9 383.7 L1513.7 383.7 L1527.4 389.6 L1531.3 393.5 L1548.8 393.5 L1568.3 394.4 L1580.0 393.5M1388.9 262.8 L1398.7 259.9 L1404.5 262.8" fill="none" stroke="#3a3c3f" stroke-width="2.6" stroke-linejoin="round"/></g>
<circle cx="1295.3" cy="277.3" r="5.3" fill="#b40f1d"/>
<rect x="1239.2" y="206.3" width="10.6" height="10.3" fill="#f2f2f2" stroke="#000" stroke-width="1.6"/>
<text transform="translate(1250.2 208.7) scale(0.62 1)" text-anchor="middle" font-family="DejaVu Sans Mono,monospace" font-size="23.5" fill="#000" stroke="#000" stroke-width="0.7">I</text>
<text transform="translate(1254.3 208.7) scale(0.9 1)" font-family="DejaVu Sans,sans-serif" font-size="23.5" letter-spacing="0.44" fill="#000">BK</text>
</g>
<rect x="958.6" y="19.2" width="620.6" height="401" fill="none" stroke="#000" stroke-width="1.7"/>

<rect x="22.3" y="432.3" width="1556.9" height="705.9" fill="none" stroke="#17191b" stroke-width="1.6"/>
<rect x="50" y="460" width="1513" height="606" fill="#f9f9f9"/>
<g transform="translate(55 458) scale(0.0347)" fill="none" stroke-linecap="round" stroke-width="40">
<g stroke="#1e4852">
<circle cx="255" cy="415" r="58"/>
<path d="M160 500C200 620 370 620 405 450C420 350 350 250 250 265"/>
<path d="M195 780C350 720 460 600 480 400C490 270 440 180 370 150"/>
<path d="M500 95C640 150 660 320 580 480C500 640 440 780 470 930C480 990 520 1030 550 1060"/>
<path d="M830 95C900 200 880 330 820 430C770 520 790 600 900 610C1000 615 1100 640 1170 680"/>
<path d="M1050 240C960 300 940 420 1010 500C1060 550 1120 575 1170 590"/>
<path d="M1110 330C1060 380 1090 470 1170 500"/>
<path d="M725 1070C690 950 760 830 900 800C980 785 1050 800 1095 830"/>
<path d="M905 1020C870 950 960 880 1050 912"/>
</g>
<path stroke="#c5d54e" d="M640 70C760 150 790 280 720 420C660 530 570 640 610 730C650 800 760 770 850 730C950 690 1050 700 1140 760"/>
</g>
<text x="49.5" y="510" font-family="Liberation Sans,Arial,sans-serif" font-weight="bold" font-size="11" fill="#123d47">GeoSphere</text>
<text x="60" y="522.7" font-family="Liberation Sans,Arial,sans-serif" font-size="11" letter-spacing="0.35" fill="#3d6570">Austria</text>

<path d="M216.50 551V1010M304.50 551V1010M392.50 551V1010M480.50 551V1010M568.50 551V1010M655.50 551V1010M743.50 551V1010M831.50 551V1010M919.50 551V1010M1007.50 551V1010M1095.50 551V1010M1183.50 551V1010M1271.50 551V1010M1359.50 551V1010" stroke="#a2a2a2" stroke-width="1" stroke-dasharray="1 2" fill="none"/>
<path d="M129 918.50H1446M129 826.50H1446M129 734.50H1446M129 642.50H1446" stroke="#bababa" stroke-width="1" stroke-dasharray="2 1" fill="none"/>
<rect x="1164" y="551.4" width="282" height="59.5" fill="#f9f9f9"/>
<polyline fill="none" stroke="#000" stroke-width="1.4" stroke-linejoin="round" points="128.5,926.9 141.2,914.2 154,897.2 167.8,879.7 181.6,867 194.8,864.2 208.2,870.6 220.9,881.4 234.7,892.9 247.5,901.4 261.3,910.1 275.1,919.7 287.9,931.2 301.7,944.6 314.4,956.3 328.2,965.8 342.1,972.8 355.9,977.1 369.7,978.1 380.3,977.7 394.1,974.9 407.9,970.5 421.7,964.1 435.6,957.3 448.3,950.9 462.7,945.2 475.5,940.9 488.2,938.6 501,937.8 513.7,939.2 527.6,944.1 541.4,953.1 554.1,964.7 567.9,978.1 581.7,987.7 594.5,990.9 607.2,990.2 620,988.1 633.8,987.5 647.6,988.8 661.4,991.3 675.2,993.9 688,994.5 700.7,993.4 714.6,989.6 728.4,982.2 742.2,974.9 754.9,969 768.7,966.4 781.5,967.9 792.7,970.3 805.5,973.2 818.2,974.9 831,975.4 843.7,975.2 856.5,973.9 869.2,972 882,969.8 894.7,967.9 907.5,966.7 920.2,965.8 933,965.4 945.7,965.4 958.5,965.8 971.2,966 984,965.8 996.7,965 1008.4,963.7 1021.2,960.5 1033.9,955.6 1047.7,949.4 1060.5,942.6 1073.2,935.4 1086,928.2 1098.7,921.4 1111.5,915 1127,911.2 1141.9,907.8 1154.6,907.6 1169.5,910.3 1182.2,913.9 1195,915.6 1207.7,915 1220.5,911.8 1233.2,906.5 1246,902 1258.7,898.4 1271.5,896.1 1286.4,894.4 1301.2,894 1314,893.5 1326.7,892.5 1339.5,889.7 1356.5,884.4 1371.4,878 1386.2,870.8 1403.2,862.9 1418.1,858 1435.1,855.3 1446.8,854.6"/>
<path d="M216.41 1010.9v-7M216.41 550.5v7M304.31 1010.9v-7M304.31 550.5v7M392.22 1010.9v-7M392.22 550.5v7M480.13 1010.9v-7M480.13 550.5v7M568.03 1010.9v-7M568.03 550.5v7M655.94 1010.9v-7M655.94 550.5v7M743.85 1010.9v-7M743.85 550.5v7M831.75 1010.9v-7M831.75 550.5v7M919.66 1010.9v-7M919.66 550.5v7M1007.57 1010.9v-7M1007.57 550.5v7M1095.47 1010.9v-7M1095.47 550.5v7M1183.38 1010.9v-7M1183.38 550.5v7M1271.29 1010.9v-7M1271.29 550.5v7M1359.19 1010.9v-7M1359.19 550.5v7M128.5 918.82h7M1447.1 918.82h-7M128.5 826.74h7M1447.1 826.74h-7M128.5 734.66h7M1447.1 734.66h-7M128.5 642.58h7M1447.1 642.58h-7" stroke="#222" stroke-width="1" fill="none"/>
<g stroke="#00e000" stroke-width="1" fill="#a0ffa0">
<rect x="846.5" y="1010.2" width="88.1" height="0.3"/>
<rect x="934.6" y="1005.3" width="88.0" height="5.2"/>
<rect x="1022.6" y="1004.4" width="88.0" height="6.1"/>
<rect x="1110.6" y="1007.3" width="88.2" height="3.2"/>
<rect x="1198.8" y="1010.2" width="248.2" height="0.3"/>
</g>
<g stroke="#0000e0" stroke-width="1" fill="#a0a0ff"><rect x="128.3" y="1008.3" width="14.7" height="2.2"/><rect x="143" y="1009.3" width="88" height="1.2"/></g>
<rect x="128.5" y="550.5" width="1318.6" height="460.4" fill="none" stroke="#000" stroke-width="1.7"/>
<g class="ar" font-size="18" fill="#000">
<text x="787.9" y="493" text-anchor="middle" letter-spacing="0.06">LWD−Region 23−01 Zillertaler Alpen Nordwest 2484m</text>
<text x="127.7" y="518.7">Schneefallgrenze</text>
<text x="117.6" y="1016.6" text-anchor="end">0</text>
<text x="1462.6" y="1016.6">0</text>
<text x="117.6" y="924.5" text-anchor="end">10</text>
<text x="1462.6" y="924.5">20</text>
<text x="117.6" y="832.4" text-anchor="end">20</text>
<text x="1462.6" y="832.4">40</text>
<text x="117.6" y="740.4" text-anchor="end">30</text>
<text x="1462.6" y="740.4">60</text>
<text x="117.6" y="648.3" text-anchor="end">40</text>
<text x="1462.6" y="648.3">80</text>
<text x="117.6" y="556.2" text-anchor="end">50</text>
<text x="1462.6" y="556.2">100</text>
<text x="128.5" y="1034.9" text-anchor="middle">00h</text>
<text x="128.6" y="1052.8" text-anchor="middle" letter-spacing="0.12">So,04.01.</text>
<text x="216.4" y="1034.9" text-anchor="middle">06h</text>
<text x="216.5" y="1052.8" text-anchor="middle" letter-spacing="0.12">So,04.01.</text>
<text x="304.3" y="1034.9" text-anchor="middle">12h</text>
<text x="304.4" y="1052.8" text-anchor="middle" letter-spacing="0.12">So,04.01.</text>
<text x="392.2" y="1034.9" text-anchor="middle">18h</text>
<text x="392.3" y="1052.8" text-anchor="middle" letter-spacing="0.12">So,04.01.</text>
<text x="480.1" y="1034.9" text-anchor="middle">00h</text>
<text x="480.2" y="1052.8" text-anchor="middle" letter-spacing="0.12">Mo,05.01.</text>
<text x="568.0" y="1034.9" text-anchor="middle">06h</text>
<text x="568.1" y="1052.8" text-anchor="middle" letter-spacing="0.12">Mo,05.01.</text>
<text x="655.9" y="1034.9" text-anchor="middle">12h</text>
<text x="656.0" y="1052.8" text-anchor="middle" letter-spacing="0.12">Mo,05.01.</text>
<text x="743.8" y="1034.9" text-anchor="middle">18h</text>
<text x="743.9" y="1052.8" text-anchor="middle" letter-spacing="0.12">Mo,05.01.</text>
<text x="831.8" y="1034.9" text-anchor="middle">00h</text>
<text x="831.9" y="1052.8" text-anchor="middle" letter-spacing="0.12">Di,06.01.</text>
<text x="919.7" y="1034.9" text-anchor="middle">06h</text>
<text x="919.8" y="1052.8" text-anchor="middle" letter-spacing="0.12">Di,06.01.</text>
<text x="1007.6" y="1034.9" text-anchor="middle">12h</text>
<text x="1007.7" y="1052.8" text-anchor="middle" letter-spacing="0.12">Di,06.01.</text>
<text x="1095.5" y="1034.9" text-anchor="middle">18h</text>
<text x="1095.6" y="1052.8" text-anchor="middle" letter-spacing="0.12">Di,06.01.</text>
<text x="1183.4" y="1034.9" text-anchor="middle">00h</text>
<text x="1183.5" y="1052.8" text-anchor="middle" letter-spacing="0.12">Mi,07.01.</text>
<text x="1271.3" y="1034.9" text-anchor="middle">06h</text>
<text x="1271.4" y="1052.8" text-anchor="middle" letter-spacing="0.12">Mi,07.01.</text>
<text x="1359.2" y="1034.9" text-anchor="middle">12h</text>
<text x="1359.3" y="1052.8" text-anchor="middle" letter-spacing="0.12">Mi,07.01.</text>
<text x="1447.1" y="1034.9" text-anchor="middle">18h</text>
<text x="1447.2" y="1052.8" text-anchor="middle" letter-spacing="0.12">Mi,07.01.</text>
<text transform="translate(73.9 780.5) rotate(-90)" text-anchor="middle">Neuschnee in cm/Niederschlag in mm</text>
<text transform="translate(1527.3 781) rotate(-90)" text-anchor="middle">mittlerer Wind in km/h</text>
<text x="1365.6" y="571.8" text-anchor="end">Niederschlag</text>
<text x="1365.6" y="589.8" text-anchor="end">Neuschnee</text>
<text x="1365.6" y="607.8" text-anchor="end">mittlerer Wind in 3000 m</text>
</g>
<rect x="1376.5" y="561.3" width="49.3" height="8.9" fill="#a0ffa0" stroke="#00e000" stroke-width="1"/>
<rect x="1376.5" y="579.3" width="49.3" height="8.9" fill="#a0a0ff" stroke="#0000e0" stroke-width="1"/>
<path d="M1376.5 601.7H1426" stroke="#000" stroke-width="1.2"/>
<g class="ar" font-size="16" fill="#000">
<text x="128.5" y="536.9">0m</text>
<text x="216.4" y="536.9">0m</text>
<text x="304.3" y="536.9">0m</text>
<text x="392.2" y="536.9">0m</text>
<text x="480.1" y="536.9">0m</text>
<text x="568.0" y="536.9">0m</text>
<text x="655.9" y="536.9">0m</text>
<text x="743.8" y="536.9">0m</text>
<text x="831.8" y="536.9">0m</text>
<text x="919.7" y="536.9">0m</text>
<text x="1007.6" y="536.9">0m</text>
<text x="1095.5" y="536.9">0m</text>
<text x="1183.4" y="536.9">0m</text>
<text x="1271.3" y="536.9">0m</text>
<text x="1359.2" y="536.9">0m</text>
<text x="1447.1" y="536.9">0m</text>
</g>
</svg></body></html>
